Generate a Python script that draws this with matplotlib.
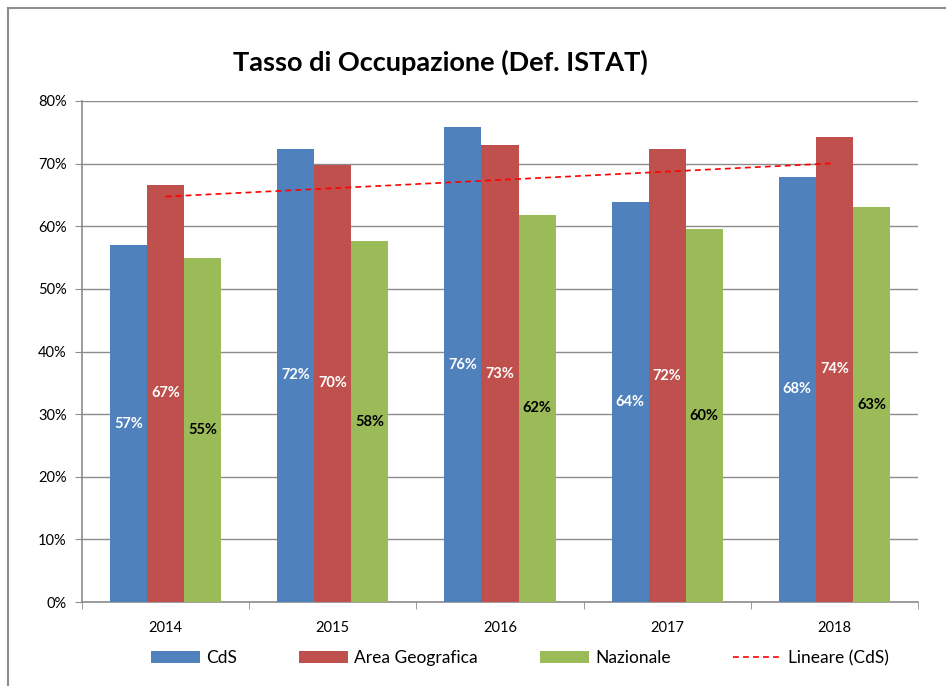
import matplotlib
matplotlib.use("Agg")
import matplotlib.pyplot as plt
from matplotlib.lines import Line2D
from matplotlib.ticker import FuncFormatter, FixedLocator
import numpy as np

years = ["2014", "2015", "2016", "2017", "2018"]
cds = [57.0, 72.4, 75.8, 63.9, 67.9]
area = [66.6, 69.8, 72.9, 72.3, 74.3]
naz = [55.0, 57.6, 61.8, 59.5, 63.0]
series_names = ["CdS", "Area Geografica", "Nazionale"]
trend_name = "Lineare (CdS)"
title = "Tasso di Occupazione (Def. ISTAT)"

colors = ["#4F81BD", "#C0504D", "#9BBB59"]
label_colors = ["white", "white", "black"]

plt.rcParams['font.family'] = ['Lato', 'DejaVu Sans']

fig = plt.figure(figsize=(9.46, 6.86), dpi=100)
ax = fig.add_axes([82/946, 1-602/686, (918-82)/946, (602-101)/686])

x = np.arange(len(years))
w = 0.222
for i, (vals, c, lc, name) in enumerate(zip([cds, area, naz], colors, label_colors, series_names)):
    pos = x + (i - 1) * w
    ax.bar(pos, vals, width=w, color=c, edgecolor='none', label=name, zorder=3)
    for p, v in zip(pos, vals):
        ax.text(p, v / 2, f"{round(v):.0f}%", ha='center', va='center', color=lc,
                fontsize=10.5, fontweight='bold', zorder=4)

coef = np.polyfit(x, cds, 1)
ax.plot(x, np.polyval(coef, x), color='red', linestyle=(0, (3.5, 2.5)), linewidth=1.2,
        label=trend_name, zorder=5)

ax.set_xlim(-0.5, len(years) - 0.5)
ax.set_ylim(0, 80)
ax.yaxis.set_major_locator(FixedLocator(np.arange(0, 81, 10)))
ax.yaxis.set_major_formatter(FuncFormatter(lambda v, p: f"{v:.0f}%"))
ax.yaxis.grid(True, color='#8C8C8C', linewidth=1.0, zorder=0)
ax.set_axisbelow(True)

ax.set_xticks(x)
ax.set_xticklabels(years)
ax.xaxis.set_minor_locator(FixedLocator(np.arange(-0.5, len(years), 1.0)))
ax.tick_params(axis='x', which='major', length=0, pad=14, labelsize=10.5)
ax.tick_params(axis='x', which='minor', length=5, color='#8C8C8C', direction='out')
ax.tick_params(axis='y', length=5, color='#8C8C8C', direction='out', labelsize=10.5, pad=6)

for s in ['top', 'right']:
    ax.spines[s].set_visible(False)
for s in ['left', 'bottom']:
    ax.spines[s].set_color('#8C8C8C')
    ax.spines[s].set_linewidth(1.2)

fig.text(440/946, 1-62/686, title, ha='center', va='center', fontsize=19.5, fontweight='bold')

handles, labels = ax.get_legend_handles_labels()
order = [1, 2, 3, 0]
fig.legend([handles[i] for i in order], [labels[i] for i in order],
           loc='center', bbox_to_anchor=(520/946, 1-658/686), ncol=4, frameon=False,
           fontsize=12.5, handlelength=2.8, handleheight=0.75, columnspacing=3.6, handletextpad=0.35)

# chart border (left and top)
fig.add_artist(Line2D([8/946, 8/946], [0, 1-8/686], transform=fig.transFigure, color='#8C8C8C', linewidth=1.5))
fig.add_artist(Line2D([8/946, 1], [1-8/686, 1-8/686], transform=fig.transFigure, color='#8C8C8C', linewidth=1.5))

fig.savefig("out.png", dpi=100)
